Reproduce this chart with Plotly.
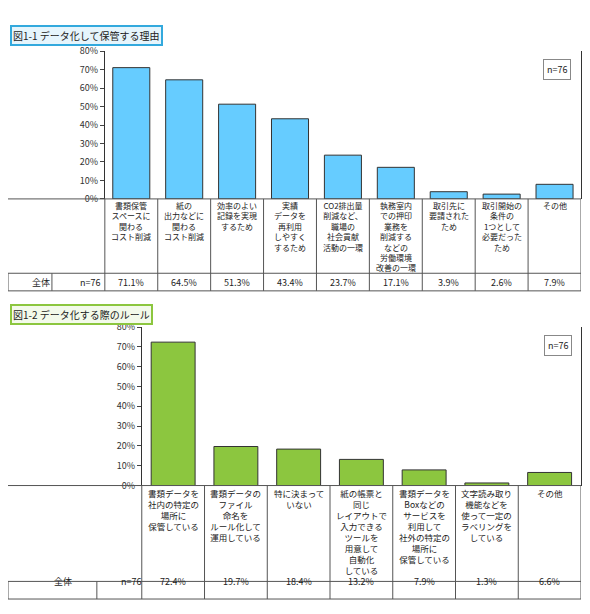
import plotly.graph_objects as go

W, H = 574, 598
cats1 = ["書類保管<br>スペースに<br>関わる<br>コスト削減", "紙の<br>出力などに<br>関わる<br>コスト削減", "効率のよい<br>記録を実現<br>するため",
         "実績<br>データを<br>再利用<br>しやすく<br>するため", "CO2排出量<br>削減など、<br>職場の<br>社会貢献<br>活動の一環",
         "執務室内<br>での押印<br>業務を<br>削減する<br>などの<br>労働環境<br>改善の一環", "取引先に<br>要請された<br>ため",
         "取引開始の<br>条件の<br>1つとして<br>必要だった<br>ため", "その他"]
vals1 = [71.1, 64.5, 51.3, 43.4, 23.7, 17.1, 3.9, 2.6, 7.9]
cats2 = ["書類データを<br>社内の特定の<br>場所に<br>保管している", "書類データの<br>ファイル<br>命名を<br>ルール化して<br>運用している", "特に決まって<br>いない",
         "紙の帳票と<br>同じ<br>レイアウトで<br>入力できる<br>ツールを<br>用意して<br>自動化<br>している",
         "書類データを<br>Boxなどの<br>サービスを<br>利用して<br>社外の特定の<br>場所に<br>保管している",
         "文字読み取り<br>機能などを<br>使って一定の<br>ラベリングを<br>している", "その他"]
vals2 = [72.4, 19.7, 18.4, 13.2, 7.9, 1.3, 6.6]
title1 = "図1-1 データ化して保管する理由"
title2 = "図1-2 データ化する際のルール"
ticks = [0, 10, 20, 30, 40, 50, 60, 70, 80]

FONT = "Noto Sans CJK JP"
def px(x): return max(0.0, min(1.0, (x - 6) / W))
def py(y): return max(0.0, min(1.0, 1 - (y - 6) / H))

fig = go.Figure()
fig.add_bar(x=list(range(len(vals1))), y=vals1, marker=dict(color="#66CCFF", line=dict(color="#333", width=1)), width=0.7, xaxis="x", yaxis="y")
fig.add_bar(x=list(range(len(vals2))), y=vals2, marker=dict(color="#8CC63F", line=dict(color="#333", width=1)), width=0.7, xaxis="x2", yaxis="y2")

ax = dict(showticklabels=False, ticks="", showgrid=False, zeroline=False, showline=False, fixedrange=True)
ay = dict(range=[0, 80], tickvals=ticks, ticktext=[f"{t}%" for t in ticks], ticks="outside", ticklen=4,
          showgrid=False, zeroline=False, showline=True, linecolor="#333", mirror=True,
          tickfont=dict(size=9, color="#333"))
fig.update_layout(
    width=W, height=H, margin=dict(l=0, r=0, t=0, b=0), showlegend=False,
    paper_bgcolor="white", plot_bgcolor="white", font=dict(family=FONT, size=9, color="#222"),
    xaxis=dict(ax, domain=[px(103), px(583)], range=[-0.5, len(vals1) - 0.5], anchor="y"),
    yaxis=dict(ay, domain=[py(194), py(43)], anchor="x"),
    xaxis2=dict(ax, domain=[px(140), px(583)], range=[-0.5, len(vals2) - 0.5], anchor="y2"),
    yaxis2=dict(ay, domain=[py(487), py(325)], anchor="x2"),
)

shapes, anns = [], []
def table(xa, n, vals, cats, ylab, yval, ybot, xleft, xsplit, fs):
    L = dict(color="#555", width=1)
    for yy in [ylab, yval, ybot]:
        shapes.append(dict(type="line", xref="paper", yref="paper", x0=px(6), x1=px(583), y0=py(yy), y1=py(yy), line=L))
    for xx in [6, xsplit]:
        shapes.append(dict(type="line", xref="paper", yref="paper", x0=px(xx), x1=px(xx), y0=py(yval), y1=py(ybot), line=L))
    shapes.append(dict(type="line", xref="paper", yref="paper", x0=px(xleft), x1=px(xleft), y0=py(ylab), y1=py(ybot), line=L))
    for i in range(n):
        shapes.append(dict(type="line", xref=xa, yref="paper", x0=i + 0.5, x1=i + 0.5, y0=py(ylab), y1=py(ybot), line=L))
        anns.append(dict(xref=xa, yref="paper", x=i, y=py(ylab), yanchor="top", showarrow=False,
                         text=cats[i], font=dict(size=fs), align="center", borderpad=0))
        anns.append(dict(xref=xa, yref="paper", x=i, y=py((yval + ybot) / 2), showarrow=False, text=f"{vals[i]:.1f}%", font=dict(size=9)))
    anns.append(dict(xref="paper", yref="paper", x=px((6 + xsplit) / 2), y=py((yval + ybot) / 2), showarrow=False, text="全体"))
    anns.append(dict(xref="paper", yref="paper", x=px((xsplit + xleft) / 2), y=py((yval + ybot) / 2), showarrow=False, text="n=76"))

table("x", len(vals1), vals1, cats1, 194, 270, 288, 103, 50, 8)
table("x2", len(vals2), vals2, cats2, 487, 585, 603, 140, 95, 8.5)

for t, yy, bc, bg in [(title1, 16, "#33A9DD", "#E6F5FC"), (title2, 312, "#8CC63F", "#F3FAEA")]:
    anns.append(dict(xref="paper", yref="paper", x=px(8), y=py(yy), xanchor="left", showarrow=False, text=t,
                     font=dict(size=10, color="#222"), bordercolor=bc, borderwidth=2, bgcolor=bg, borderpad=1))
for xa, ya in [("x domain", "y domain"), ("x2 domain", "y2 domain")]:
    anns.append(dict(xref=xa, yref=ya, x=0.98, y=0.95, xanchor="right", yanchor="top", showarrow=False,
                     text="n=76", bordercolor="#888", borderwidth=1, borderpad=3, bgcolor="white"))

fig.update_layout(shapes=shapes, annotations=anns)
fig.write_html("out.html")
